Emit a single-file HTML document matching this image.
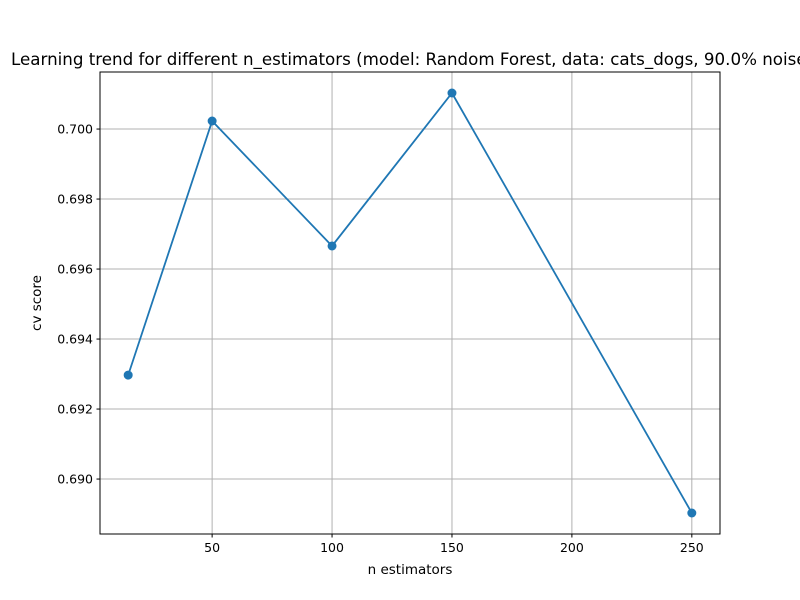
<!DOCTYPE html>
<html><head><meta charset="utf-8"><style>body{margin:0;background:#fff;overflow:hidden}svg{display:block;font-family:"DejaVu Sans","Liberation Sans",sans-serif}</style></head>
<body>
<svg id="chart" width="800" height="600">
<rect x="0" y="0" width="800" height="600" fill="#fff"/>
<text x="11" y="65" font-size="16.7" fill="#000">Learning trend for different n_estimators (model: Random Forest, data: cats_dogs, 90.0% noise)</text>
<g id="grid"></g>
<g id="ticks"></g>
<rect x="100" y="72" width="620" height="462" fill="none" stroke="#000" stroke-width="1"/>
<g id="series"></g>
<text x="410" y="574" font-size="13.5" text-anchor="middle">n estimators</text>
<text transform="translate(41,303) rotate(-90)" font-size="13.5" text-anchor="middle">cv score</text>
</svg>
<script>
const xValues = [15, 50, 100, 150, 250];
const yValues = [0.69297, 0.70023, 0.69666, 0.70103, 0.68903];
const xTicks = [50, 100, 150, 200, 250];
const yTicks = [0.690, 0.692, 0.694, 0.696, 0.698, 0.700];

const NS = "http://www.w3.org/2000/svg";
const L = 100, R = 720, T = 72, B = 534;
const xmn = Math.min(...xValues), xmx = Math.max(...xValues);
const ymn = Math.min(...yValues), ymx = Math.max(...yValues);
const xm = (xmx - xmn) * 0.05, ym = (ymx - ymn) * 0.05;
const sx = v => L + (v - (xmn - xm)) / ((xmx + xm) - (xmn - xm)) * (R - L);
const sy = v => B - (v - (ymn - ym)) / ((ymx + ym) - (ymn - ym)) * (B - T);
function mk(tag, attrs, parent) {
  const e = document.createElementNS(NS, tag);
  for (const k in attrs) e.setAttribute(k, attrs[k]);
  document.getElementById(parent).appendChild(e);
  return e;
}
xTicks.forEach(t => {
  const x = sx(t);
  const g = mk("line", {x1: x, x2: x, y1: T, y2: B, stroke: "#b0b0b0", "stroke-width": 1}, "grid");
  
  
  mk("line", {x1: x, x2: x, y1: B, y2: B + 3.5, stroke: "#000"}, "ticks");
  const tx = mk("text", {x: x, y: B + 18, "font-size": 12.5, "text-anchor": "middle"}, "ticks");
  tx.textContent = t;
  
  
});
yTicks.forEach(t => {
  const y = sy(t);
  const g = mk("line", {x1: L, x2: R, y1: y, y2: y, stroke: "#b0b0b0", "stroke-width": 1}, "grid");
  
  
  mk("line", {x1: L - 3.5, x2: L, y1: y, y2: y, stroke: "#000"}, "ticks");
  const tx = mk("text", {x: L - 7, y: y + 4.5, "font-size": 12.5, "text-anchor": "end"}, "ticks");
  tx.textContent = t.toFixed(3);
  
  
});
const pts = xValues.map((v, i) => sx(v) + "," + sy(yValues[i])).join(" ");
const line = mk("polyline", {points: pts, fill: "none", stroke: "#1f77b4", "stroke-width": 1.8}, "series");


xValues.forEach((v, i) => {
  const c = mk("circle", {cx: sx(v), cy: sy(yValues[i]), r: 4.5, fill: "#1f77b4"}, "series");
  
  
});
</script>
</body></html>
